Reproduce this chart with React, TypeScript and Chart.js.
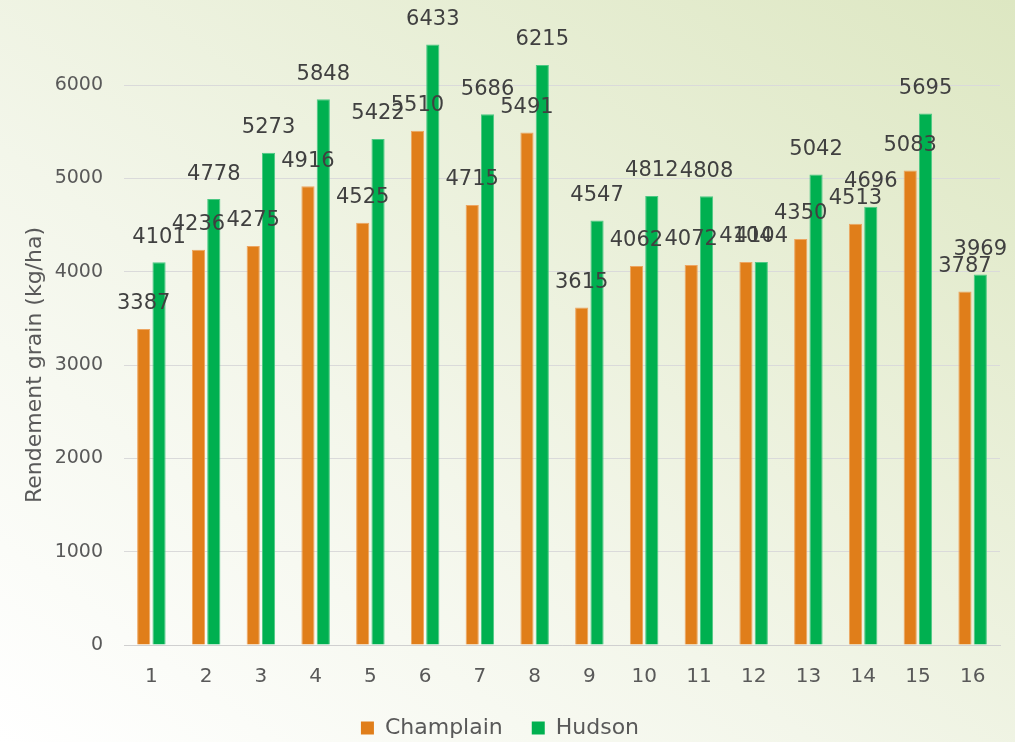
import React, { useEffect, useRef } from "react";
import { Chart, registerables } from "chart.js";

Chart.register(...registerables);

const categories = ["1", "2", "3", "4", "5", "6", "7", "8", "9", "10", "11", "12", "13", "14", "15", "16"];
const champlain = [3387, 4236, 4275, 4916, 4525, 5510, 4715, 5491, 3615, 4062, 4072, 4104, 4350, 4513, 5083, 3787];
const hudson = [4101, 4778, 5273, 5848, 5422, 6433, 5686, 6215, 4547, 4812, 4808, 4104, 5042, 4696, 5695, 3969];
const yTicks = [0, 1000, 2000, 3000, 4000, 5000, 6000];

const FONT = "'DejaVu Sans', sans-serif";

const dataLabels = {
  id: "dataLabels",
  afterDatasetsDraw(chart: any) {
    const ctx = chart.ctx;
    ctx.save();
    ctx.font = `21px ${FONT}`;
    ctx.fillStyle = "#404040";
    ctx.textAlign = "center";
    ctx.textBaseline = "middle";
    chart.data.datasets.forEach((ds: any, i: number) => {
      const meta = chart.getDatasetMeta(i);
      meta.data.forEach((el: any, j: number) => {
        ctx.fillText(String(ds.data[j]), el.x, el.y - 25);
      });
    });
    ctx.restore();
  },
};

export default function App() {
  const ref = useRef<HTMLCanvasElement>(null);
  useEffect(() => {
    const chart = new Chart(ref.current!, {
      type: "bar",
      data: {
        labels: categories,
        datasets: [
          {
            label: "Champlain",
            data: champlain,
            backgroundColor: "#E07E1A",
            borderColor: "#EDA561",
            borderWidth: 1,
            categoryPercentage: 0.56,
            barPercentage: 0.86,
            clip: false as any,
          },
          {
            label: "Hudson",
            data: hudson,
            backgroundColor: "#00B050",
            borderColor: "#4CC883",
            borderWidth: 1,
            categoryPercentage: 0.56,
            barPercentage: 0.86,
            clip: false as any,
          },
        ],
      },
      options: {
        animation: false,
        responsive: false,
        maintainAspectRatio: false,
        layout: { padding: { top: 85, right: 15, left: 0, bottom: -7 } },
        plugins: {
          legend: {
            position: "bottom",
            labels: {
              boxWidth: 13,
              boxHeight: 13,
              padding: 15,
              color: "#595959",
              font: { family: FONT, size: 22 },
              generateLabels: (c: any) => {
                const items = Chart.defaults.plugins.legend.labels.generateLabels(c);
                items.forEach((it: any, i: number) => {
                  if (i === 0) it.text = it.text + "  ";
                  it.lineWidth = 0;
                });
                return items;
              },
            },
          },
          tooltip: { enabled: false },
        },
        scales: {
          x: {
            grid: { display: false, drawTicks: false },
            border: { display: true, color: "#d0d0d0", width: 1 },
            ticks: { color: "#595959", font: { family: FONT, size: 20 }, padding: 20 },
            afterFit: (s: any) => {
              s.height = 57;
            },
          },
          y: {
            min: 0,
            max: 6000,
            afterBuildTicks: (s: any) => {
              s.ticks = yTicks.map((v) => ({ value: v }));
            },
            grid: { color: "#dadada", drawTicks: false },
            border: { display: false },
            ticks: {
              color: "#595959",
              font: { family: FONT, size: 19 },
              padding: 21,
              callback: (v: any) => String(v),
            },
            title: {
              display: true,
              text: "Rendement grain (kg/ha)",
              color: "#595959",
              font: { family: FONT, size: 22 },
              padding: { top: 22, bottom: 0 },
            },
            afterFit: (s: any) => {
              s.width = 124;
            },
          },
        },
      },
      plugins: [dataLabels],
    });
    return () => chart.destroy();
  }, []);

  return (
    <div
      style={{
        position: "fixed",
        left: 0,
        top: 0,
        width: 1015,
        height: 742,
        background: "linear-gradient(to top right, #ffffff 0%, #f3f6ea 40%, #dde7c2 100%)",
      }}
    >
      <canvas ref={ref} width={1015} height={742} style={{ display: "block" }} />
    </div>
  );
}
